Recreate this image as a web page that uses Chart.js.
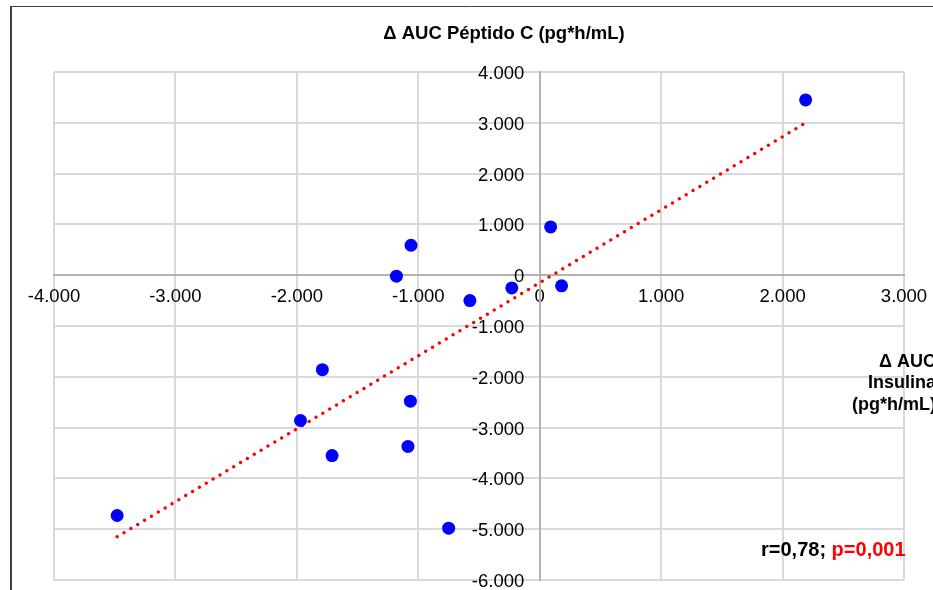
<!DOCTYPE html>
<html>
<head>
<meta charset="utf-8">
<script src="https://cdn.jsdelivr.net/npm/chart.js@4"></script>
<style>
  html, body { margin: 0; padding: 0; background: #fff; }
  #wrap { width: 933px; height: 590px; }
</style>
</head>
<body>
<div id="wrap"><canvas id="grafica"></canvas></div>
<script>
// Δ AUC Insulina (x) vs Δ AUC Péptido C (y), pg*h/mL
var insulina = [-3480, -1970, -1790, -1710, -1180, -1060, -1065, -1085, -750, -575, -230, 90, 180, 2190];
var peptidoC = [-4730, -2860, -1860, -3550, -20, 590, -2480, -3370, -4980, -500, -250, 950, -210, 3450];

// extremos de la línea de tendencia
var tendenciaX = [-3480, 2190];
var tendenciaY = [-5150, 3000];

var tituloY = 'Δ AUC Péptido C (pg*h/mL)';
var tituloX = ['Δ AUC', 'Insulina', '(pg*h/mL)'];
var textoR = 'r=0,78; ';
var textoP = 'p=0,001';

var puntos = insulina.map(function (x, i) { return { x: x, y: peptidoC[i] }; });
var tendencia = tendenciaX.map(function (x, i) { return { x: x, y: tendenciaY[i] }; });

function miles(v) {
  return String(v).replace(/\B(?=(\d{3})+(?!\d))/g, '.');
}

var colorRejilla = '#d9d9d9';
var colorEje = '#b3b3b3';

var decor = {
  id: 'decor',
  beforeDraw: function (chart) {
    var ctx = chart.ctx;
    ctx.save();
    ctx.fillStyle = '#fff';
    ctx.fillRect(0, 0, chart.width, chart.height);
    // marco exterior
    ctx.strokeStyle = '#404040';
    ctx.lineWidth = 2;
    ctx.beginPath();
    ctx.moveTo(11, chart.height);
    ctx.lineTo(11, 6.5);
    ctx.stroke();
    ctx.lineWidth = 1;
    ctx.beginPath();
    ctx.moveTo(10, 6.5);
    ctx.lineTo(chart.width, 6.5);
    ctx.stroke();
    ctx.restore();
  },
  afterDraw: function (chart) {
    var ctx = chart.ctx;
    ctx.save();
    ctx.fillStyle = '#000';
    ctx.textBaseline = 'middle';
    ctx.font = 'bold 18.5px "Liberation Sans", Arial, sans-serif';
    ctx.textAlign = 'center';
    ctx.fillText(tituloY, 504, 34);

    ctx.font = 'bold 18px "Liberation Sans", Arial, sans-serif';
    ctx.textAlign = 'right';
    tituloX.forEach(function (t, i) {
      ctx.fillText(t, 936, 362 + i * 21.5);
    });

    ctx.font = 'bold 20px "Liberation Sans", Arial, sans-serif';
    ctx.textAlign = 'left';
    ctx.fillText(textoR, 761, 550);
    var w = ctx.measureText(textoR).width;
    ctx.fillStyle = '#ff0000';
    ctx.fillText(textoP, 761 + w, 550);
    ctx.restore();
  }
};

function colorLinea(ctx) {
  return ctx.tick && ctx.tick.value === 0 ? colorEje : colorRejilla;
}

new Chart(document.getElementById('grafica'), {
  type: 'scatter',
  data: {
    datasets: [
      {
        label: 'Datos',
        data: puntos,
        backgroundColor: '#0000ff',
        borderColor: '#0000ff',
        pointRadius: 6.5,
        pointBorderWidth: 0,
        order: 0
      },
      {
        label: 'Tendencia',
        type: 'line',
        data: tendencia,
        borderColor: '#ff0000',
        borderWidth: 3.5,
        borderDash: [0, 8],
        borderCapStyle: 'round',
        pointRadius: 0,
        fill: false,
        order: 1
      }
    ]
  },
  options: {
    responsive: true,
    maintainAspectRatio: false,
    animation: false,
    layout: {
      padding: { left: 54, right: 29, top: 72, bottom: 10 }
    },
    scales: {
      x: {
        type: 'linear',
        position: { y: 0 },
        min: -4000,
        max: 3000,
        ticks: {
          stepSize: 1000,
          color: '#000',
          padding: 0,
          maxRotation: 0,
          font: { family: '"Liberation Sans", Arial, sans-serif', size: 18.5 },
          callback: function (v) { return miles(v); }
        },
        // marcas invisibles: sólo separan las etiquetas del eje
        grid: { color: colorLinea, lineWidth: 2, drawTicks: true, tickLength: 11, tickColor: 'rgba(0,0,0,0)' },
        border: { display: true, color: colorEje, width: 2 }
      },
      y: {
        type: 'linear',
        position: { x: 0 },
        min: -6000,
        max: 4000,
        ticks: {
          stepSize: 1000,
          color: '#000',
          padding: 0,
          labelOffset: 2,
          font: { family: '"Liberation Sans", Arial, sans-serif', size: 18.5, lineHeight: 1 },
          // con el eje centrado el padding no se aplica; los espacios separan la etiqueta del eje
          callback: function (v) { return miles(v) + '   '; }
        },
        grid: { color: colorLinea, lineWidth: 2, drawTicks: false },
        border: { display: true, color: colorEje, width: 2 }
      }
    },
    plugins: {
      legend: { display: false },
      tooltip: { enabled: false },
      title: { display: false }
    }
  },
  plugins: [decor]
});
</script>
</body>
</html>
